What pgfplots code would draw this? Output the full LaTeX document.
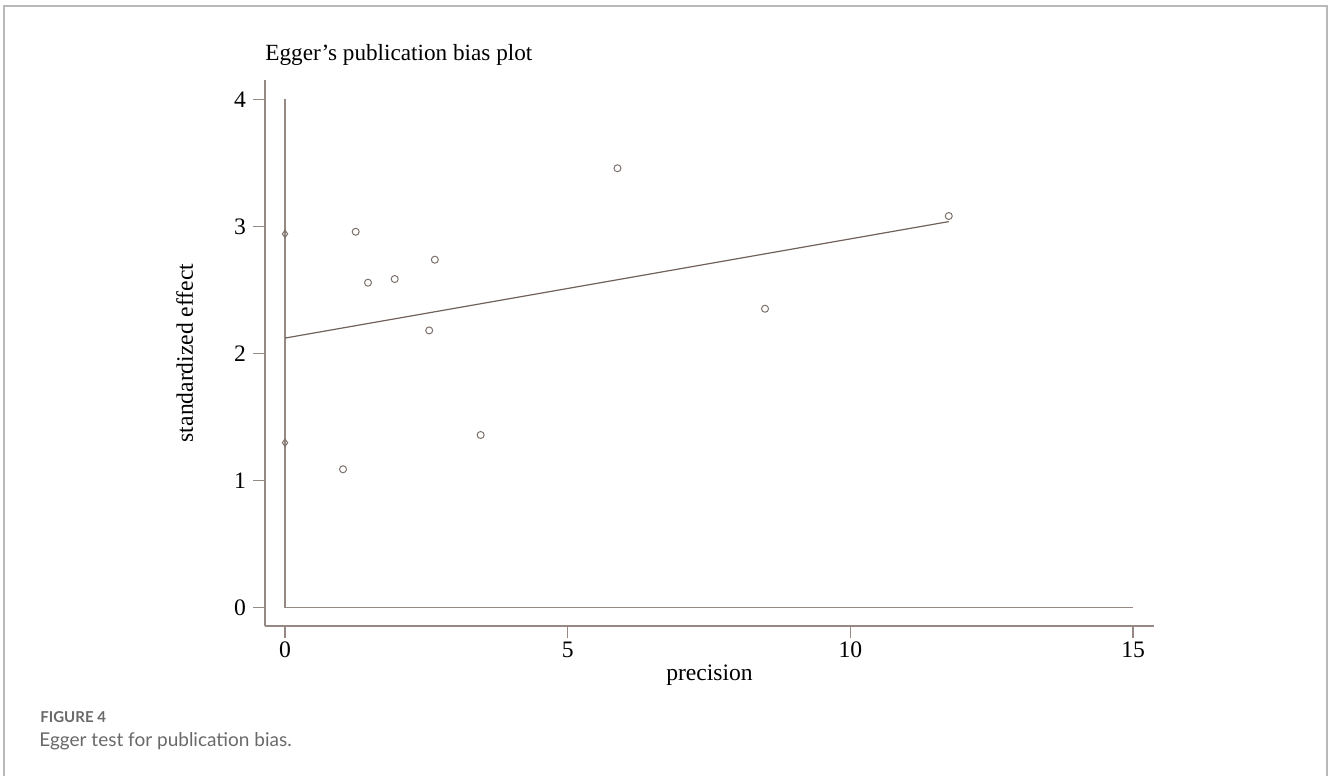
\documentclass[border=0pt]{standalone}
\usepackage{fontspec}
\setmainfont{Liberation Serif}
\newfontfamily\capfont{Lato}
\usepackage{pgfplots}
\pgfplotsset{compat=1.18}
\definecolor{axc}{RGB}{150,136,130}
\definecolor{linec}{RGB}{112,98,90}
\definecolor{mkc}{RGB}{125,112,106}
\definecolor{framec}{RGB}{185,185,185}
\definecolor{capc}{RGB}{105,105,105}
\begin{document}
\begin{tikzpicture}[x=1pt,y=1pt]
\useasboundingbox (0,0) rectangle (664,388);
\draw[framec, line width=0.9pt] (2,-5) -- (2,385) -- (663.5,385) -- (663.5,-5);
\begin{axis}[
  at={(132.5pt,75pt)}, anchor=south west,
  scale only axis, width=444.5pt, height=273pt,
  xmin=-0.354, xmax=15.37, ymin=-0.147, ymax=4.152,
  axis lines=left, axis line style={-, axc, line width=0.6pt},
  xtick={0,5,10,15}, ytick={0,1,2,3,4},
  tick align=outside, major tick length=6pt,
  tick style={axc, line width=0.6pt},
  font=\fontsize{11.8}{13}\selectfont,
  /pgf/number format/assume math mode=true,
  xticklabel style={yshift=1.5pt},
  xlabel={precision}, ylabel={standardized effect},
  xlabel style={at={(axis description cs:0.5,0)}, anchor=base, yshift=-27.5pt},
  ylabel style={at={(axis description cs:-0.081,0.5)}, anchor=base},
  clip=false,
]
\addplot[axc, line width=0.6pt] coordinates {(0,4) (0,0) (15,0)};
\addplot[linec, line width=0.6pt] coordinates {(0,2.12) (11.74,3.037)};
\addplot[only marks, mark=o, mark size=1.75pt, mkc, mark options={line width=0.5pt}] coordinates {
(1.026,1.087) (1.25,2.957) (1.468,2.556) (1.94,2.585) (2.55,2.18)
(2.65,2.737) (3.46,1.357) (5.88,3.457) (8.49,2.351) (11.74,3.081)};
\addplot[only marks, mark=diamond, mark size=1.8pt, mkc, mark options={line width=0.5pt, fill=white}] coordinates {
(0,2.94) (0,1.296)};
\end{axis}
\node[anchor=base west, font=\fontsize{11.6}{13}\selectfont, inner sep=0pt] at (132.5,357.5) {Egger’s publication bias plot};
\node[anchor=base west, font=\capfont\bfseries\fontsize{7.5}{9}\selectfont, text=capc, inner sep=0pt] at (20,26.75) {FIGURE 4};
\node[anchor=base west, font=\capfont\fontsize{9.5}{11}\selectfont, text=capc, inner sep=0pt] at (19.5,14.65) {Egger test for publication bias.};
\end{tikzpicture}
\end{document}
